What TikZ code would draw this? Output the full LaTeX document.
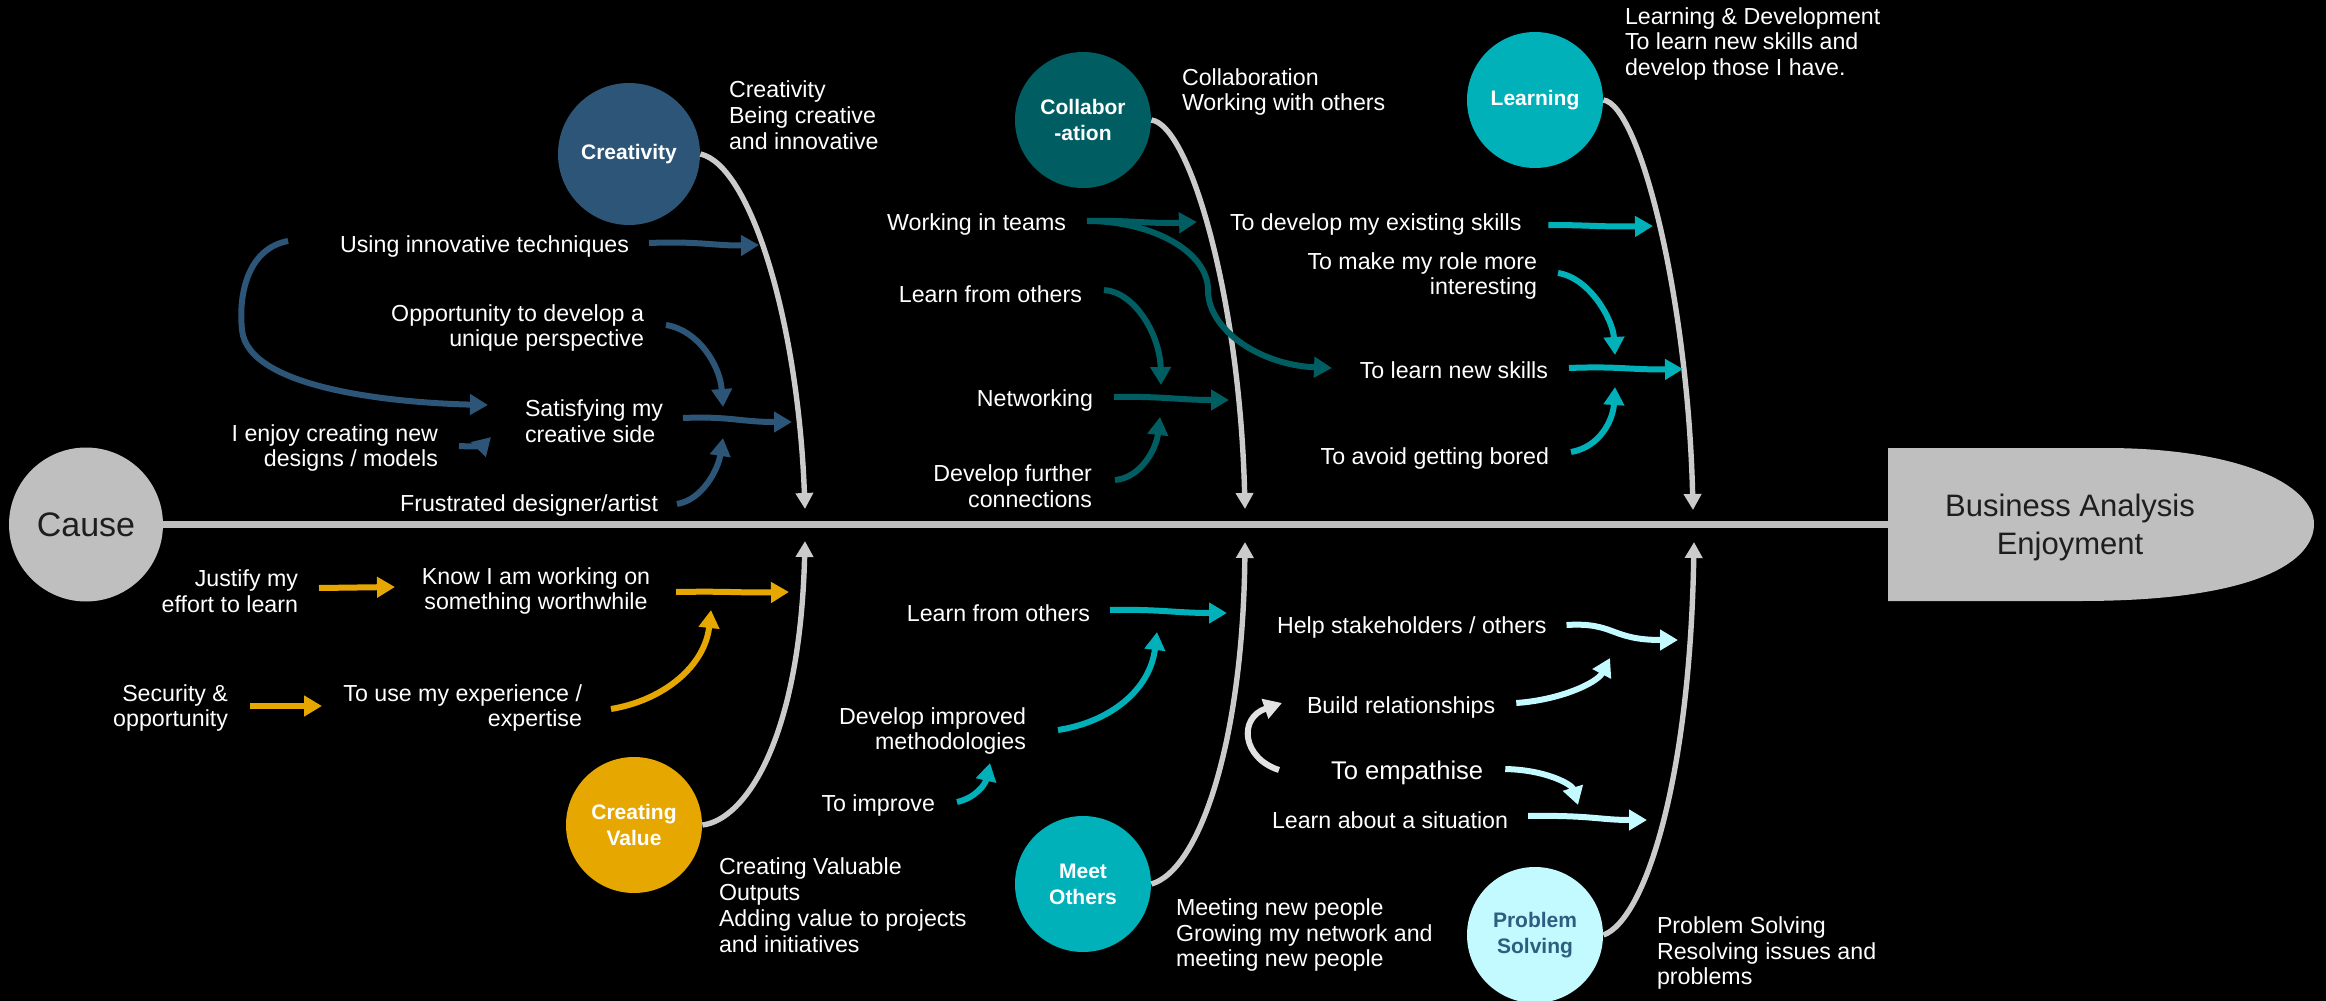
\documentclass[tikz,border=0pt]{standalone}
\usepackage{fontspec}
\setmainfont{Liberation Sans}
\usetikzlibrary{arrows.meta,shapes.geometric}
\definecolor{cBlue}{HTML}{2C5578}
\definecolor{cDteal}{HTML}{005E62}
\definecolor{cTeal}{HTML}{00B1BA}
\definecolor{cGold}{HTML}{E6A800}
\definecolor{cIce}{HTML}{C2FAFF}
\definecolor{cGray}{HTML}{BFBFBF}
\definecolor{cLgray}{HTML}{CBCBCB}
\definecolor{cPale}{HTML}{E2E2E2}
\definecolor{cInk}{HTML}{1E1E1E}
\definecolor{cPS}{HTML}{2F5D80}
\newcommand{\myfN}{\fontsize{11.6pt}{12.9pt}\selectfont}
\newcommand{\myfB}{\fontsize{10.5pt}{13pt}\selectfont\bfseries}
\newcommand{\myfC}{\fontsize{17pt}{20pt}\selectfont}
\newcommand{\myfG}{\fontsize{15.5pt}{19pt}\selectfont}
\newcommand{\myfE}{\fontsize{12.8pt}{14pt}\selectfont}
\begin{document}
\begin{tikzpicture}[x=0.5pt,y=-0.5pt,
  txt/.style={text=white,font=\myfN,inner sep=0pt,outer sep=0pt},
  cat/.style={circle,minimum size=68pt,inner sep=0pt,font=\myfB,align=center,text=white},
  spoke/.style={draw=cLgray,line width=2.7pt,-{Triangle[length=8pt,width=8.5pt]}},
  arr/.style={line width=3pt,-{Triangle[length=9pt,width=10pt]}}]
\fill[black] (0,0) rectangle (2326,1001);
\useasboundingbox (0,0) rectangle (2326,1001);

% ---- goal shape and spine
\fill[cGray] (1888,448) -- (2105,448) .. controls (2240,448) and (2314,485) .. (2314,524)
  .. controls (2314,560) and (2260,601) .. (2080,601) -- (1888,601) -- cycle;
\node[font=\myfG,text=cInk,align=center,inner sep=0pt] (goal) at (2070,527) {Business Analysis\\Enjoyment};
\coordinate (goalL) at (1888,524.5);
\node[circle,fill=cGray,minimum size=77pt,inner sep=0pt,font=\myfC,text=cInk] (cause) at (86,524.5) {Cause};
\draw[cGray,line width=3.75pt] (cause.east) -- (goalL);

% ---- category circles
\node[cat,fill=cBlue,minimum size=71pt] (creat) at (629,154) {Creativity};
\node[cat,fill=cDteal] (collab) at (1083,120) {Collabor\\-ation};
\node[cat,fill=cTeal] (learn) at (1535,100) {Learning};
\node[cat,fill=cGold] (cval) at (634,825) {Creating\\Value};
\node[cat,fill=cTeal] (meet) at (1083,884) {Meet\\Others};
\node[cat,fill=cIce,text=cPS] (prob) at (1535,935) {Problem\\Solving};

% ---- spoke end points
\coordinate (s1) at (805,509);
\coordinate (s2) at (1245,509);
\coordinate (s3) at (1693,510);
\coordinate (s4) at (805,541);
\coordinate (s5) at (1245,542);
\coordinate (s6) at (1694,542);
\draw[spoke] (creat.east) .. controls (750,165) and (798,320) .. (s1);
\draw[spoke] (collab.east) .. controls (1190,125) and (1240,300) .. (s2);
\draw[spoke] (learn.east) .. controls (1640,105) and (1688,300) .. (s3);
\draw[spoke] (cval.east) .. controls (745,820) and (800,740) .. (s4);
\draw[spoke] (meet.east) .. controls (1200,870) and (1243,740) .. (s5);
\draw[spoke] (prob.east) .. controls (1645,920) and (1690,780) .. (s6);

% ---- description texts
\node[txt,align=left,anchor=west] (credesc) at (729,115) {Creativity\\Being creative\\and innovative};
\node[txt,align=left,anchor=west] (coldesc) at (1182,92) {Collaboration\\Working with others};
\node[txt,align=left,anchor=west] (ldesc) at (1625,44) {Learning \& Development\\To learn new skills and\\develop those I have.};
\node[txt,align=left,anchor=west] (cvdesc) at (719,905) {Creating Valuable\\Outputs\\Adding value to projects\\and initiatives};
\node[txt,align=left,anchor=west] (modesc) at (1176,935) {Meeting new people\\Growing my network and\\meeting new people};
\node[txt,align=left,anchor=west] (psdesc) at (1657,953) {Problem Solving\\Resolving issues and\\problems};

% ---- creativity causes
\node[txt,anchor=east] (using) at (629,246) {Using innovative techniques};
\node[txt,align=right,anchor=east] (oppo) at (644,328) {Opportunity to develop a\\unique perspective};
\node[txt,align=left,anchor=west] (satis) at (525,421) {Satisfying my\\creative side};
\node[txt,align=right,anchor=east] (enjoy) at (438,448) {I enjoy creating new\\designs / models};
\node[txt,anchor=east] (frus) at (658,505) {Frustrated designer/artist};

% ---- collaboration causes
\node[txt,anchor=east] (teams) at (1066,224) {Working in teams};
\node[txt,anchor=east] (lfo1) at (1082,294) {Learn from others};
\node[txt,anchor=east] (netw) at (1093,400) {Networking};
\node[txt,align=right,anchor=east] (devf) at (1092,486) {Develop further\\connections};

% ---- learning causes
\node[txt,anchor=west] (devex) at (1230,224) {To develop my existing skills};
\node[txt,align=right,anchor=east] (make) at (1537,276) {To make my role more\\interesting};
\node[txt,anchor=east] (lns) at (1548,370) {To learn new skills};
\node[txt,anchor=east] (avoid) at (1549,458) {To avoid getting bored};

% ---- creating value causes
\node[txt,align=right,anchor=east] (just) at (298,591) {Justify my\\effort to learn};
\node[txt,align=center] (know) at (536,591) {Know I am working on\\something worthwhile};
\node[txt,align=right,anchor=east] (secu) at (228,708) {Security \&\\opportunity};
\node[txt,align=right,anchor=east] (touse) at (582,708) {To use my experience /\\expertise};

% ---- meet others causes
\node[txt,anchor=east] (toimp) at (935,805) {To improve};
\node[txt,align=right,anchor=east] (devimp) at (1026,731) {Develop improved\\methodologies};
\node[txt,anchor=east] (lfo2) at (1090,613) {Learn from others};

% ---- problem solving causes
\node[txt,anchor=west] (help) at (1277,627) {Help stakeholders / others};
\node[txt,anchor=west] (build) at (1307,707) {Build relationships};
\node[txt,anchor=west,font=\myfE] (empa) at (1331,773) {To empathise};
\node[txt,anchor=west] (situ) at (1272,820) {Learn about a situation};

% ---- arrow end points
\coordinate (cb1) at (759,245);
\coordinate (cb2) at (488,405);
\coordinate (cb3) at (723,407);
\coordinate (cb4) at (792,422);
\coordinate (cb5) at (491,437);
\coordinate (cb6) at (723,438);
\coordinate (ct1) at (1197,222);
\coordinate (ct2) at (1332,368);
\coordinate (ct3) at (1161,385);
\coordinate (ct4) at (1229,400);
\coordinate (ct5) at (1160,417);
\coordinate (cl1) at (1653,226);
\coordinate (cl2) at (1615,355);
\coordinate (cl3) at (1683,369);
\coordinate (cl4) at (1615,387);
\coordinate (cg1) at (395,587);
\coordinate (cg2) at (789,592);
\coordinate (cg3) at (322,706);
\coordinate (cg4) at (711,610);
\coordinate (cm1) at (990,763);
\coordinate (cm2) at (1157,632);
\coordinate (cm3) at (1227,613);
\coordinate (cp1) at (1678,640);
\coordinate (cp2) at (1610,658);
\coordinate (cp3) at (1282,703);
\coordinate (cp4) at (1578,805);
\coordinate (cp5) at (1647,820);

% ---- creativity arrows
\draw[arr,cBlue] ([shift={(20,-3)}]using.east) .. controls (700,241) and (715,246) .. (cb1);
\draw[arr,cBlue] ([shift={(-52,-5)}]using.west) .. controls (250,248) and (238,290) .. (242,330)
  .. controls (248,390) and (400,403) .. (cb2);
\draw[arr,cBlue] ([shift={(22,-3)}]oppo.east) .. controls (698,330) and (720,365) .. (cb3);
\draw[arr,cBlue] ([shift={(20,-3)}]satis.east) .. controls (730,416) and (740,422) .. (cb4);
\draw[arr,cBlue] ([shift={(21,-2)}]enjoy.east) .. controls (475,447) and (483,445) .. (cb5);
\draw[arr,cBlue] ([shift={(19,-1)}]frus.east) .. controls (702,500) and (718,470) .. (cb6);

% ---- collaboration arrows
\draw[arr,cDteal] ([shift={(21,-3)}]teams.east) .. controls (1130,220) and (1150,224) .. (ct1);
\draw[arr,cDteal] ([shift={(21,-3)}]teams.east) .. controls (1153,221) and (1208,252) .. (1208,290)
  .. controls (1208,330) and (1260,365) .. (ct2);
\draw[arr,cDteal] ([shift={(22,-4)}]lfo1.east) .. controls (1135,292) and (1160,335) .. (ct3);
\draw[arr,cDteal] ([shift={(21,-3)}]netw.east) .. controls (1160,396) and (1180,400) .. (ct4);
\draw[arr,cDteal] ([shift={(23,-6)}]devf.east) .. controls (1140,478) and (1156,450) .. (ct5);

% ---- learning arrows
\draw[arr,cTeal] ([shift={(27,1)}]devex.east) .. controls (1590,225) and (1600,227) .. (cl1);
\draw[arr,cTeal] ([shift={(21,-3)}]make.east) .. controls (1590,278) and (1613,320) .. (cl2);
\draw[arr,cTeal] ([shift={(21,-2)}]lns.east) .. controls (1620,366) and (1630,370) .. (cl3);
\draw[arr,cTeal] ([shift={(22,-6)}]avoid.east) .. controls (1600,447) and (1613,420) .. (cl4);

% ---- creating value arrows
\draw[arr,cGold] ([shift={(21,-3)}]just.east) -- (cg1);
\draw[arr,cGold] ([shift={(26,1)}]know.east) .. controls (730,591) and (740,593) .. (cg2);
\draw[arr,cGold] ([shift={(22,-2)}]secu.east) -- (cg3);
\draw[arr,cGold] ([shift={(29,1)}]touse.east) .. controls (665,700) and (705,665) .. (cg4);

% ---- meet others arrows
\draw[arr,cTeal] ([shift={(22,-3)}]toimp.east) .. controls (975,798) and (985,785) .. (cm1);
\draw[arr,cTeal] ([shift={(32,-1)}]devimp.east) .. controls (1110,722) and (1150,690) .. (cm2);
\draw[arr,cTeal] ([shift={(20,-3)}]lfo2.east) .. controls (1160,609) and (1175,613) .. (cm3);

% ---- problem solving arrows
\draw[arr,cIce] ([shift={(20,-2)}]help.east) .. controls (1615,622) and (1610,640) .. (cp1);
\draw[arr,cIce] ([shift={(21,-4)}]build.east) .. controls (1560,700) and (1597,683) .. (cp2);
\draw[arr,cPale] ([shift={(-52,-3)}]empa.west) .. controls (1242,758) and (1238,718) .. (cp3);
\draw[arr,cIce] ([shift={(22,-4)}]empa.east) .. controls (1548,770) and (1572,785) .. (cp4);
\draw[arr,cIce] ([shift={(20,-4)}]situ.east) .. controls (1590,815) and (1600,820) .. (cp5);
\end{tikzpicture}
\end{document}
